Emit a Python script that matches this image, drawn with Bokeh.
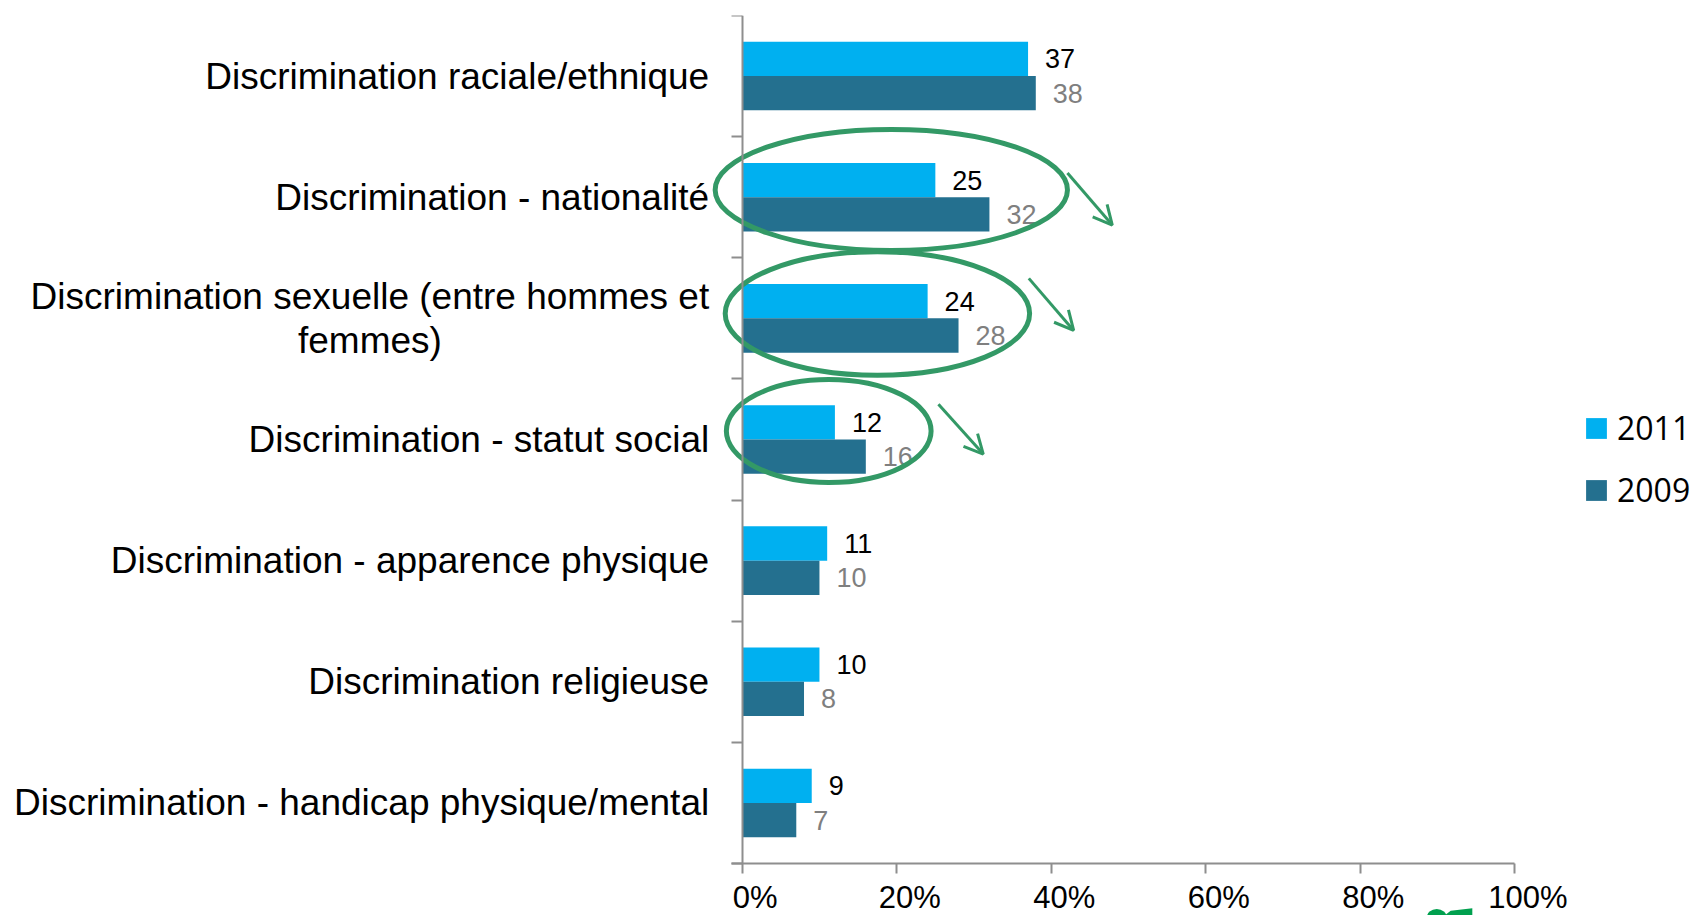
from bokeh.plotting import figure
from bokeh.models import (Range1d, FixedTicker, Arrow, OpenHead,
                          ColumnDataSource, Legend, LegendItem)
from bokeh.core.properties import value
from bokeh.embed import file_html
from bokeh.resources import INLINE

# ---------------- data ----------------
categories = [
    "Discrimination raciale/ethnique",
    "Discrimination - nationalité",
    "Discrimination sexuelle (entre hommes et\nfemmes)",
    "Discrimination - statut social",
    "Discrimination - apparence physique",
    "Discrimination religieuse",
    "Discrimination - handicap physique/mental",
]
values_2011 = [37, 25, 24, 12, 11, 10, 9]
values_2009 = [38, 32, 28, 16, 10, 8, 7]
series_names = ["2011", "2009"]
x_ticks = [0, 20, 40, 60, 80, 100]
x_tick_labels = ["0%", "20%", "40%", "60%", "80%", "100%"]

# hand-drawn highlight annotations (x in %, y in category-slot units from top)
ellipse_x = [19.3, 17.5, 11.2]
ellipse_y = [1.44, 2.46, 3.43]
ellipse_w = [45.6, 39.4, 26.5]
ellipse_h = [1.0, 1.02, 0.85]
arrow_x0 = [42.1, 37.1, 25.4]
arrow_y0 = [1.30, 2.17, 3.21]
arrow_x1 = [47.9, 42.9, 31.2]
arrow_y1 = [1.73, 2.60, 3.62]

# cropped logo fragment at the bottom edge
logo_blob = dict(x=[89.9], y=[7.45], w=[2.6], h=[0.15])
logo_leaf_x = [90.9, 91.7, 94.5, 94.5]
logo_leaf_y = [7.43, 7.39, 7.37, 7.43]

# ---------------- styles ----------------
C2011 = "#00B0F0"
C2009 = "#24708F"
GREEN = "#339966"
LOGO = "#00A04E"
AXIS = "#8E8E8E"
FONT = "Liberation Sans"

W, H = 1694, 915
X0_PX = 741.7        # canvas x of 0 %
PX_PER = 7.726       # pixels per percent
TOP_PX = 15          # canvas y of the first category boundary
SLOT_PX = 121.14     # pixels per category slot
n = len(categories)
x_start = -X0_PX / PX_PER
x_end = (W - X0_PX) / PX_PER
y_bottom = (H - TOP_PX) / SLOT_PX
BAR_H = 0.283
centers = [i + 0.5 for i in range(n)]

p = figure(width=W, height=H, output_backend="svg", toolbar_location=None,
           x_range=Range1d(x_start, x_end), y_range=Range1d(start=y_bottom, end=0),
           min_border_left=0, min_border_right=0, min_border_top=TOP_PX, min_border_bottom=0)
p.grid.visible = False
p.outline_line_color = None
p.background_fill_color = "white"
p.border_fill_color = "white"

src = ColumnDataSource(dict(
    cat=categories, v11=values_2011, v09=values_2009,
    y11=[c - BAR_H / 2 for c in centers], y09=[c + BAR_H / 2 for c in centers]))

r11 = p.hbar(y="y11", right="v11", left=0, height=BAR_H,
             source=src, fill_color=C2011, line_color=None)
r09 = p.hbar(y="y09", right="v09", left=0, height=BAR_H,
             source=src, fill_color=C2009, line_color=None)

p.text(x="v11", y="y11", text="v11", source=src,
       x_offset=17, text_baseline="middle", text_align="left",
       text_font=value(FONT), text_font_size=value("27px"), text_color="black")
p.text(x="v09", y="y09", text="v09", source=src,
       x_offset=17, text_baseline="middle", text_align="left",
       text_font=value(FONT), text_font_size=value("27px"), text_color="#7F7F7F")

# category labels (multi-line blocks right-anchored, lines centred)
lsrc = ColumnDataSource(dict(y=centers, name=categories))
p.text(x=0, y="y", text="name", source=lsrc, x_offset=-33,
       anchor="center_right", text_align="center", text_baseline="middle",
       text_line_height=1.08,
       text_font=value(FONT), text_font_size=value("37px"), text_color="black")

# vertical axis with ticks at the category boundaries
yax = p.yaxis[0]
yax.fixed_location = 0
yax.bounds = (0, n)
yax.ticker = FixedTicker(ticks=list(range(n + 1)))
yax.axis_line_color = AXIS
yax.axis_line_width = 2
yax.major_tick_line_color = AXIS
yax.major_tick_line_width = 2
yax.major_tick_out = 11
yax.major_tick_in = 0
yax.minor_tick_line_color = None
yax.major_label_text_color = None

# x axis (tick labels drawn below, offset right as in the original)
xax = p.xaxis[0]
xax.fixed_location = n
xax.bounds = (-11 / PX_PER, 100)
xax.ticker = FixedTicker(ticks=x_ticks)
xax.axis_line_color = AXIS
xax.axis_line_width = 2
xax.major_tick_line_color = AXIS
xax.major_tick_line_width = 2
xax.major_tick_out = 10
xax.major_tick_in = 0
xax.minor_tick_line_color = None
xax.major_label_text_color = None

tsrc = ColumnDataSource(dict(x=x_ticks, lab=x_tick_labels))
p.text(x="x", y=n, text="lab", source=tsrc, x_offset=13, y_offset=17,
       text_align="center", text_baseline="top",
       text_font=value(FONT), text_font_size=value("31px"), text_color="black")

# highlight ellipses and arrows
esrc = ColumnDataSource(dict(x=ellipse_x, y=ellipse_y, w=ellipse_w, h=ellipse_h))
p.ellipse(x="x", y="y", width="w", height="h", source=esrc,
          fill_color=None, line_color=GREEN, line_width=5)
for xa, ya, xb, yb in zip(arrow_x0, arrow_y0, arrow_x1, arrow_y1):
    p.add_layout(Arrow(x_start=xa, y_start=ya, x_end=xb, y_end=yb,
                       line_color=GREEN, line_width=3,
                       end=OpenHead(size=19, line_color=GREEN, line_width=3)))

# logo fragment
p.ellipse(x="x", y="y", width="w", height="h", source=ColumnDataSource(logo_blob),
          fill_color=LOGO, line_color=None)
p.patch(x=logo_leaf_x, y=logo_leaf_y, fill_color=LOGO, line_color=None)

legend = Legend(items=[LegendItem(label=series_names[0], renderers=[r11]),
                       LegendItem(label=series_names[1], renderers=[r09])],
                location=(1583, 404), orientation="vertical",
                glyph_width=26, glyph_height=26, label_standoff=8,
                label_text_font="Open Sans", label_text_font_size="32px",
                label_text_color="black", spacing=19, padding=0, margin=0,
                border_line_color=None, background_fill_alpha=0)
p.add_layout(legend)

open("out.html", "w").write(file_html(p, INLINE))
